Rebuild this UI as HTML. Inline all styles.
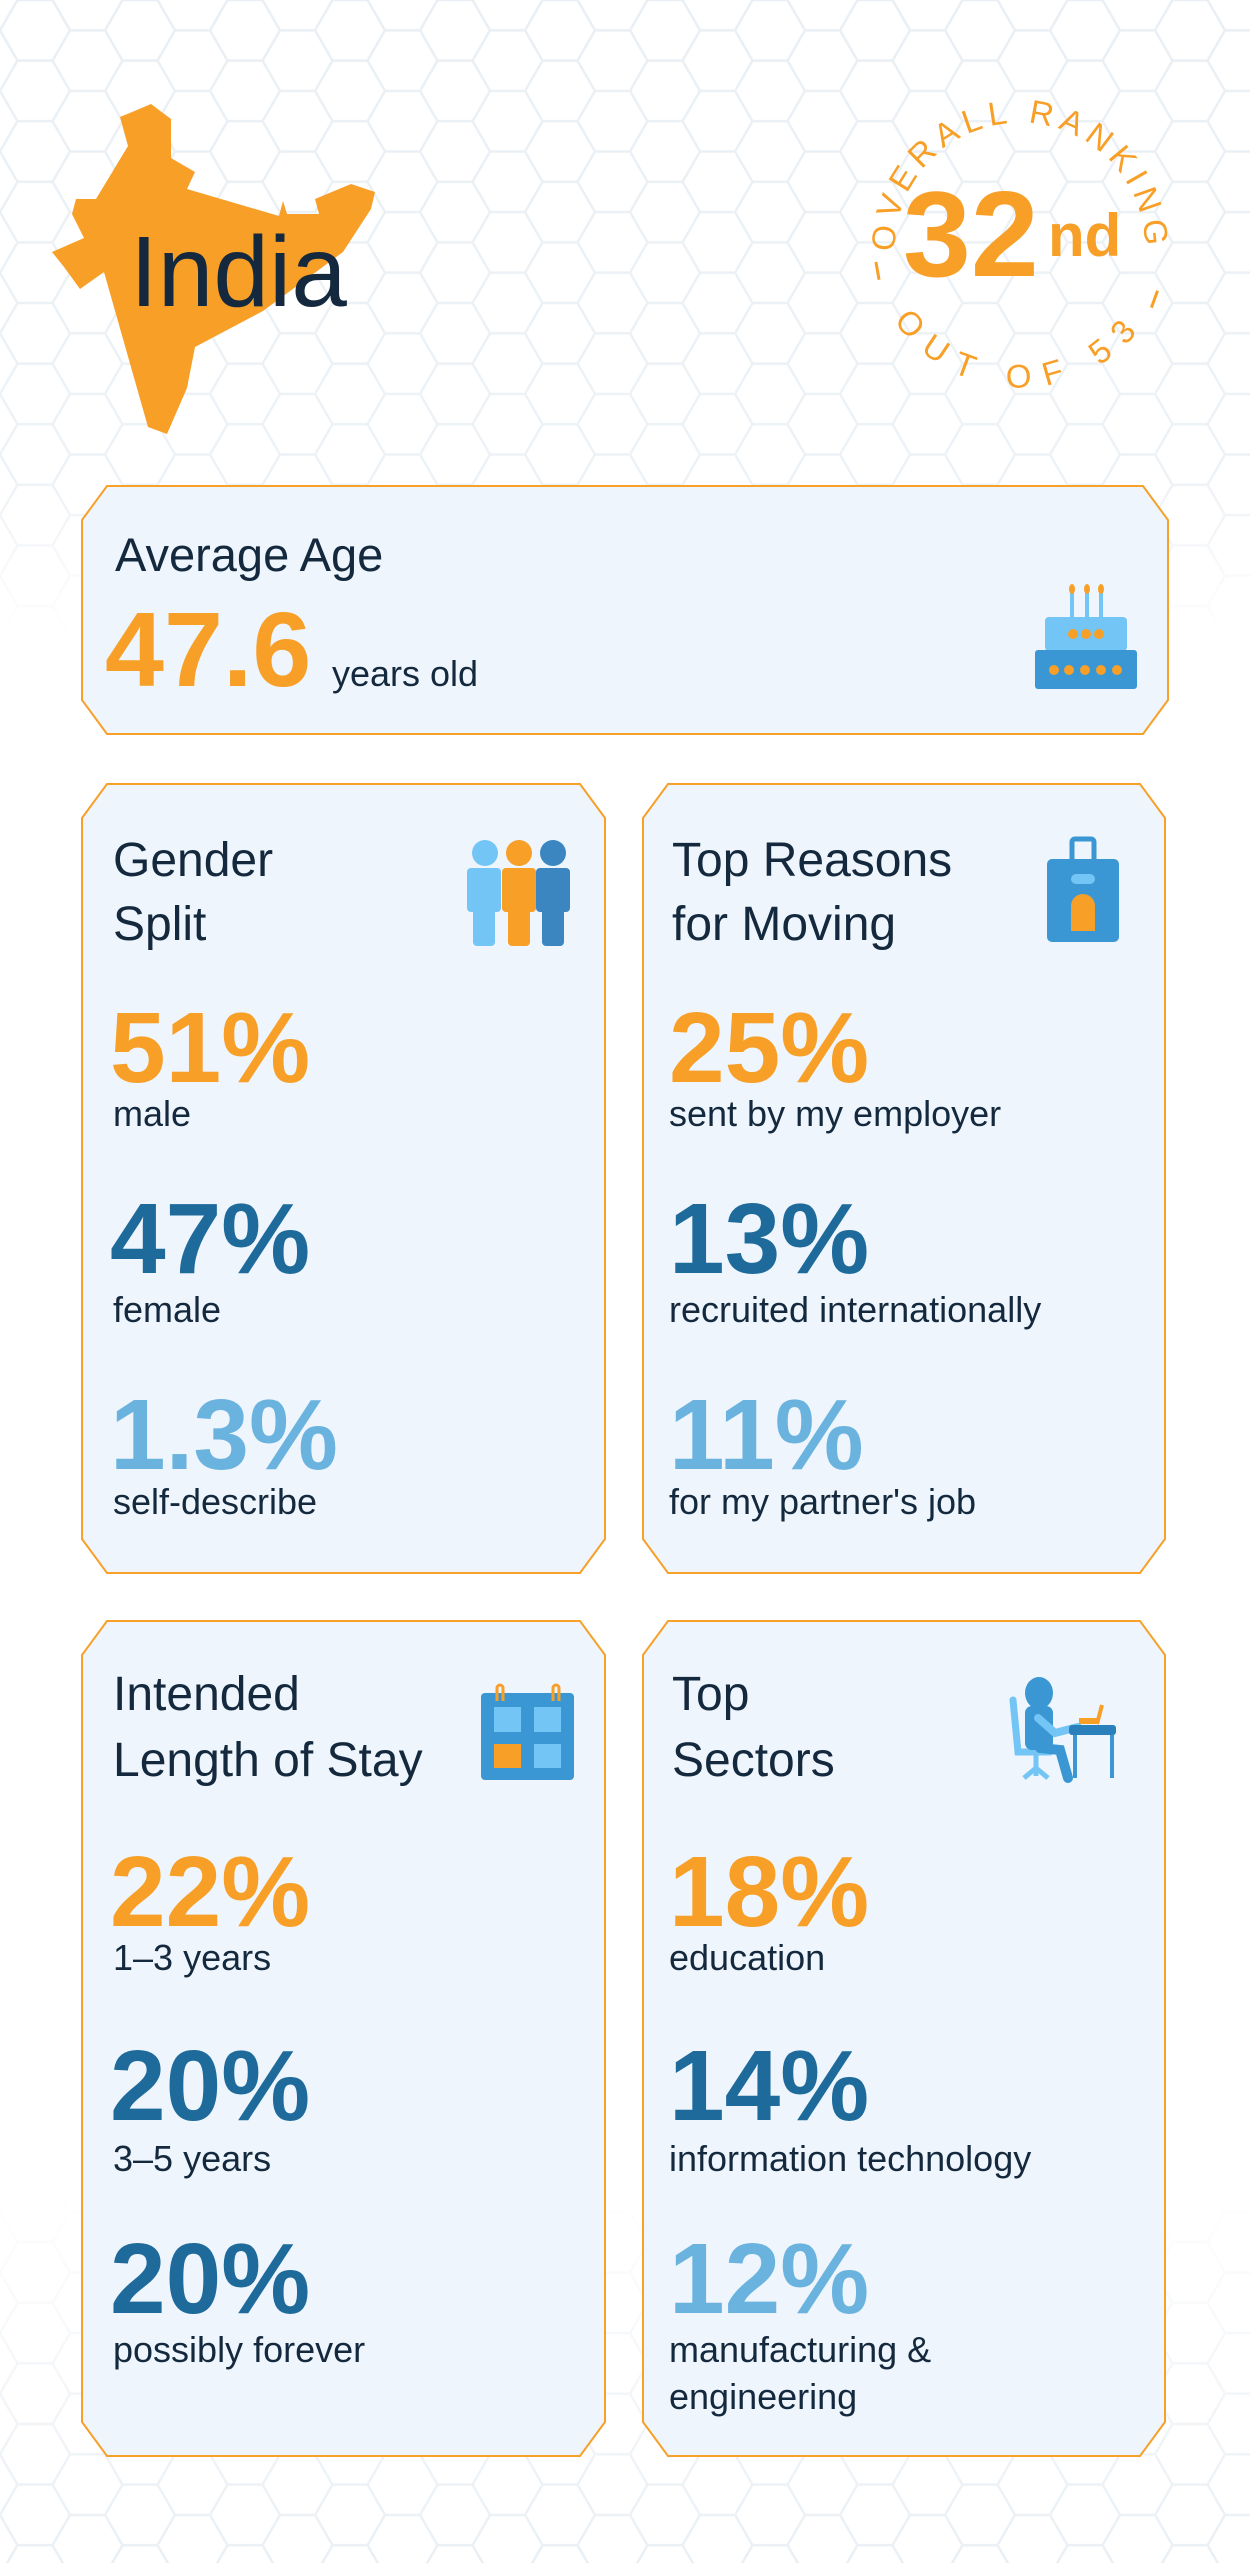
<!DOCTYPE html>
<html><head><meta charset="utf-8"><style>
html,body{margin:0;padding:0;background:#fff;}
svg{display:block;}
text{font-family:"Liberation Sans",sans-serif;}
</style></head><body>
<svg width="1250" height="2563" viewBox="0 0 1250 2563" xmlns="http://www.w3.org/2000/svg">
<defs>
<pattern id="hex" width="105" height="60.6" patternUnits="userSpaceOnUse">
<path d="M0,30.3 L17.5,0 L52.5,0 L70,30.3 L52.5,60.6 L17.5,60.6 Z M70,30.3 L105,30.3" fill="none" stroke="#e9eff4" stroke-width="2.5"/>
</pattern>
<linearGradient id="gt" x1="0" y1="0" x2="0" y2="1">
<stop offset="0" stop-color="#fff" stop-opacity="1"/><stop offset="0.75" stop-color="#fff" stop-opacity="0.8"/><stop offset="1" stop-color="#fff" stop-opacity="0"/></linearGradient>
<linearGradient id="gb" x1="0" y1="0" x2="0" y2="1">
<stop offset="0" stop-color="#fff" stop-opacity="0"/><stop offset="1" stop-color="#fff" stop-opacity="1"/></linearGradient>
<mask id="mt"><rect x="0" y="0" width="1250" height="640" fill="url(#gt)"/></mask>
<mask id="mb"><rect x="0" y="2180" width="1250" height="383" fill="url(#gb)"/></mask>
<path id="arcTop" d="M898,275 A125,125 0 1 1 1142,275"/>
<path id="arcBot" d="M870,260 A152,152 0 0 0 1170,260"/>
</defs>
<rect width="1250" height="2563" fill="#fff"/>
<rect x="0" y="0" width="1250" height="640" fill="url(#hex)" mask="url(#mt)"/>
<rect x="0" y="2180" width="1250" height="383" fill="url(#hex)" mask="url(#mb)"/>

<polygon fill="#f79f27" points="120,117 151,104 171,119 171,158 195,172 187,189 279,216 283,201 287,214 319,214 315,199 351,184 375,192 371,209 343,252 263,311 195,347 187,388 167,434 148,427 104,272 80,289 64,267 52,252 84,238 72,214 76,199 96,199 128,146"/>
<text x="130" y="306" font-size="100" fill="#14293d">India</text>

<text font-size="33" fill="#f79f27" letter-spacing="6"><textPath href="#arcTop" startOffset="50%" text-anchor="middle">OVERALL RANKING</textPath></text>
<text font-size="33" fill="#f79f27" letter-spacing="14"><textPath href="#arcBot" startOffset="50%" text-anchor="middle">OUT OF 53</textPath></text>
<rect x="876" y="262" width="3" height="18" fill="#f79f27" transform="rotate(-10 877 271)"/>
<rect x="1153" y="290" width="3" height="18" fill="#f79f27" transform="rotate(20 1154 299)"/>
<text x="903" y="276" font-size="122" font-weight="bold" fill="#f79f27">32</text>
<text x="1048" y="256" font-size="60" font-weight="bold" fill="#f79f27">nd</text>

<g fill="#eef5fc" stroke="#f7a02a" stroke-width="2">
<polygon points="107,486 1143,486 1168,520 1168,700 1143,734 107,734 82,700 82,520"/>
<polygon points="107,784 580,784 605,818 605,1539 580,1573 107,1573 82,1539 82,818"/>
<polygon points="668,784 1140,784 1165,818 1165,1539 1140,1573 668,1573 643,1539 643,818"/>
<polygon points="107,1621 580,1621 605,1655 605,2422 580,2456 107,2456 82,2422 82,1655"/>
<polygon points="668,1621 1140,1621 1165,1655 1165,2422 1140,2456 668,2456 643,2422 643,1655"/>
</g>

<text x="115" y="571" font-size="47" fill="#14293d">Average Age</text>
<text x="105" y="686" font-size="106" font-weight="bold" fill="#f79f27">47.6</text>
<text x="332" y="686" font-size="36" fill="#14293d">years old</text>
<g>
<rect x="1070" y="592" width="4" height="26" fill="#73c5f5"/><rect x="1085" y="592" width="4" height="26" fill="#73c5f5"/><rect x="1099" y="592" width="4" height="26" fill="#73c5f5"/>
<ellipse cx="1072" cy="589" rx="3" ry="5" fill="#f79f27"/><ellipse cx="1087" cy="589" rx="3" ry="5" fill="#f79f27"/><ellipse cx="1101" cy="589" rx="3" ry="5" fill="#f79f27"/>
<rect x="1045" y="617" width="82" height="34" rx="4" fill="#73c5f5"/>
<rect x="1035" y="650" width="102" height="39" rx="3" fill="#3b97d3"/>
<circle cx="1073" cy="634" r="5" fill="#f79f27"/><circle cx="1086" cy="634" r="5" fill="#f79f27"/><circle cx="1099" cy="634" r="5" fill="#f79f27"/>
<circle cx="1054" cy="670" r="5" fill="#f79f27"/><circle cx="1069" cy="670" r="5" fill="#f79f27"/><circle cx="1085" cy="670" r="5" fill="#f79f27"/><circle cx="1101" cy="670" r="5" fill="#f79f27"/><circle cx="1117" cy="670" r="5" fill="#f79f27"/>
</g>

<text x="113" y="876" font-size="48" fill="#14293d">Gender</text>
<text x="113" y="940" font-size="48" fill="#14293d">Split</text>
<g>
<circle cx="485" cy="853" r="13" fill="#73c5f5"/><rect x="467" y="868" width="34" height="44" rx="4" fill="#73c5f5"/><rect x="473" y="900" width="22" height="46" rx="4" fill="#73c5f5"/>
<circle cx="553" cy="853" r="13" fill="#3b86c0"/><rect x="536" y="868" width="34" height="44" rx="4" fill="#3b86c0"/><rect x="542" y="900" width="22" height="46" rx="4" fill="#3b86c0"/>
<circle cx="519" cy="853" r="13" fill="#f79f27"/><rect x="502" y="868" width="34" height="44" rx="4" fill="#f79f27"/><rect x="508" y="900" width="22" height="46" rx="4" fill="#f79f27"/>
</g>
<text x="110" y="1082" font-size="100" font-weight="bold" fill="#f79f27">51%</text>
<text x="113" y="1126" font-size="36" fill="#14293d">male</text>
<text x="110" y="1273" font-size="100" font-weight="bold" fill="#1e6a9b">47%</text>
<text x="113" y="1322" font-size="36" fill="#14293d">female</text>
<text x="110" y="1469" font-size="100" font-weight="bold" fill="#6bb3df">1.3%</text>
<text x="113" y="1514" font-size="36" fill="#14293d">self-describe</text>

<text x="672" y="876" font-size="48" fill="#14293d">Top Reasons</text>
<text x="672" y="940" font-size="48" fill="#14293d">for Moving</text>
<g>
<rect x="1072" y="839" width="22" height="26" rx="3" fill="none" stroke="#3b97d3" stroke-width="5"/>
<rect x="1047" y="859" width="72" height="83" rx="5" fill="#3b97d3"/>
<rect x="1071" y="874" width="24" height="10" rx="5" fill="#73c5f5"/>
<path d="M1071,931 L1071,906 A12,12 0 0 1 1095,906 L1095,931 Z" fill="#f79f27"/>
</g>
<text x="669" y="1082" font-size="100" font-weight="bold" fill="#f79f27">25%</text>
<text x="669" y="1126" font-size="36" fill="#14293d">sent by my employer</text>
<text x="669" y="1273" font-size="100" font-weight="bold" fill="#1e6a9b">13%</text>
<text x="669" y="1322" font-size="36" fill="#14293d">recruited internationally</text>
<text x="669" y="1469" font-size="100" font-weight="bold" fill="#6bb3df">11%</text>
<text x="669" y="1514" font-size="36" fill="#14293d">for my partner's job</text>

<text x="113" y="1710" font-size="48" fill="#14293d">Intended</text>
<text x="113" y="1776" font-size="48" fill="#14293d">Length of Stay</text>
<g>
<rect x="481" y="1693" width="93" height="87" rx="4" fill="#3b97d3"/>
<rect x="494" y="1707" width="27" height="25" fill="#73c5f5"/><rect x="534" y="1707" width="27" height="25" fill="#73c5f5"/>
<rect x="494" y="1744" width="27" height="24" fill="#f79f27"/><rect x="534" y="1744" width="27" height="24" fill="#73c5f5"/>
<path d="M497,1701 L497,1688 A3,3 0 0 1 503,1688 L503,1701" fill="none" stroke="#f79f27" stroke-width="3"/>
<path d="M553,1701 L553,1688 A3,3 0 0 1 559,1688 L559,1701" fill="none" stroke="#f79f27" stroke-width="3"/>
</g>
<text x="110" y="1926" font-size="100" font-weight="bold" fill="#f79f27">22%</text>
<text x="113" y="1970" font-size="36" fill="#14293d">1–3 years</text>
<text x="110" y="2120" font-size="100" font-weight="bold" fill="#1e6a9b">20%</text>
<text x="113" y="2171" font-size="36" fill="#14293d">3–5 years</text>
<text x="110" y="2313" font-size="100" font-weight="bold" fill="#1e6a9b">20%</text>
<text x="113" y="2362" font-size="36" fill="#14293d">possibly forever</text>

<text x="672" y="1710" font-size="48" fill="#14293d">Top</text>
<text x="672" y="1776" font-size="48" fill="#14293d">Sectors</text>
<g>
<path d="M1013,1700 L1018,1752 L1050,1752" fill="none" stroke="#73c5f5" stroke-width="7" stroke-linecap="round"/>
<path d="M1036,1755 L1036,1776 M1036,1768 L1024,1778 M1036,1768 L1048,1778" stroke="#73c5f5" stroke-width="5" fill="none"/>
<ellipse cx="1039" cy="1693" rx="14" ry="16" fill="#3b97d3"/>
<rect x="1025" y="1706" width="28" height="44" rx="7" fill="#3b97d3"/>
<path d="M1040,1748 L1060,1750 L1068,1778" fill="none" stroke="#3b97d3" stroke-width="10" stroke-linecap="round"/>
<path d="M1038,1718 L1055,1733 L1078,1727" fill="none" stroke="#73c5f5" stroke-width="8" stroke-linecap="round"/>
<rect x="1079" y="1718" width="20" height="6" fill="#f79f27"/><path d="M1097,1724 L1102,1705" stroke="#f79f27" stroke-width="4"/>
<rect x="1069" y="1725" width="47" height="10" rx="3" fill="#2a80ba"/>
<rect x="1073" y="1735" width="4" height="43" fill="#3b97d3"/><rect x="1110" y="1735" width="4" height="43" fill="#3b97d3"/>
</g>
<text x="669" y="1926" font-size="100" font-weight="bold" fill="#f79f27">18%</text>
<text x="669" y="1970" font-size="36" fill="#14293d">education</text>
<text x="669" y="2120" font-size="100" font-weight="bold" fill="#1e6a9b">14%</text>
<text x="669" y="2171" font-size="36" fill="#14293d">information technology</text>
<text x="669" y="2313" font-size="100" font-weight="bold" fill="#6bb3df">12%</text>
<text x="669" y="2362" font-size="36" fill="#14293d">manufacturing &amp;</text>
<text x="669" y="2409" font-size="36" fill="#14293d">engineering</text>
</svg>
</body></html>
